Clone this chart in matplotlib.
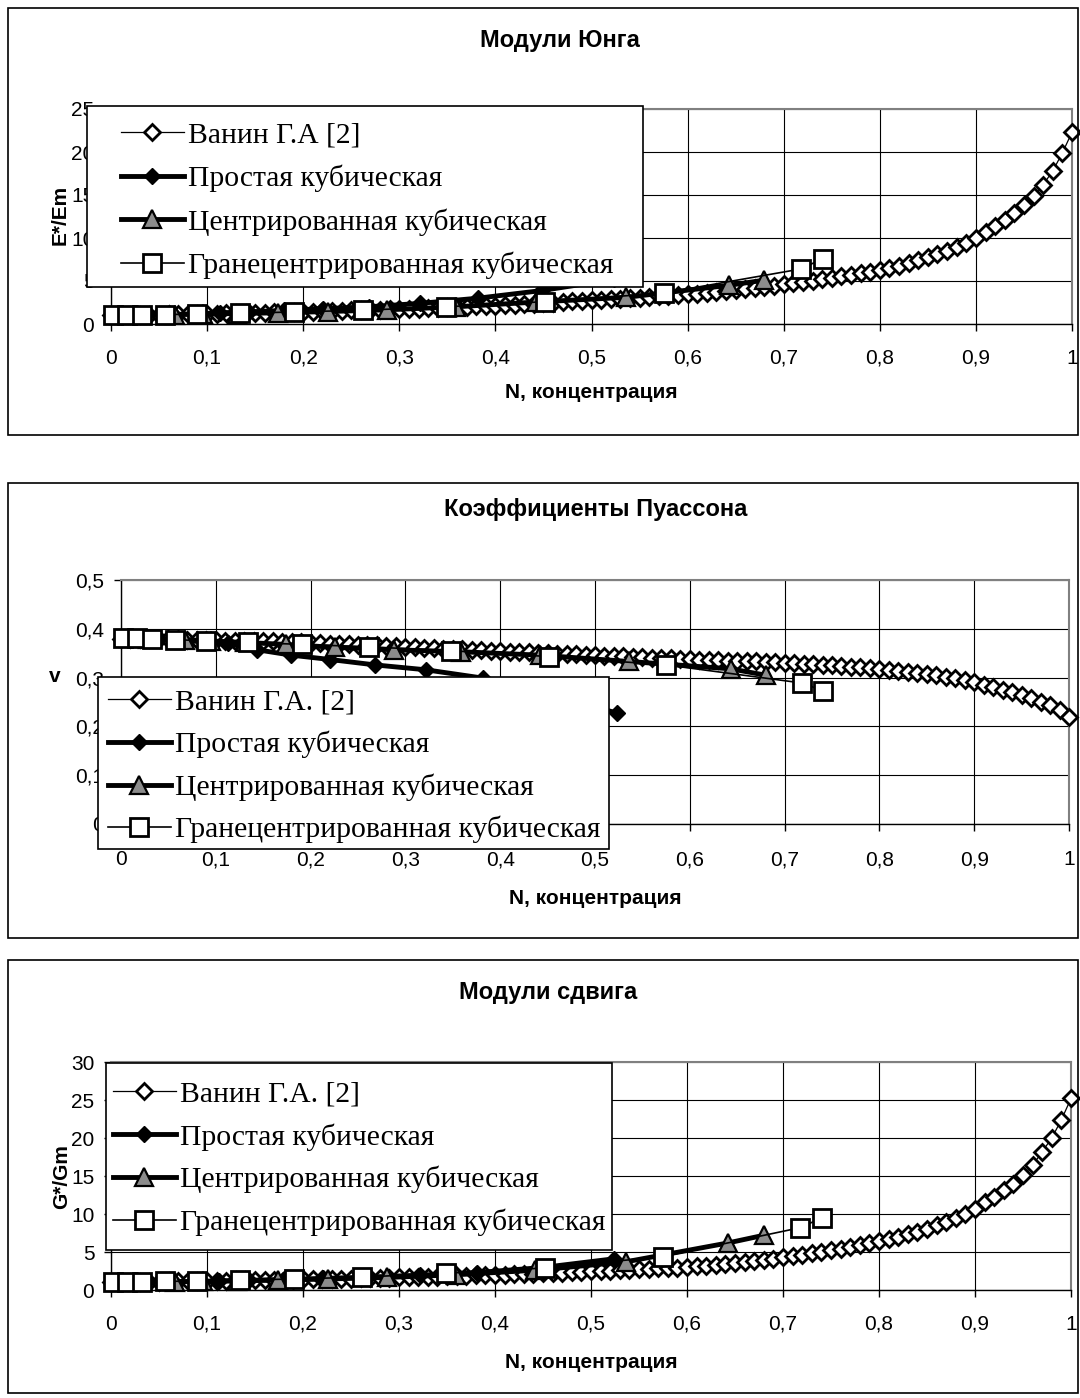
import matplotlib
matplotlib.use('Agg')
import matplotlib.pyplot as plt
from matplotlib.patches import Rectangle
from matplotlib.font_manager import FontProperties
from matplotlib.ticker import FuncFormatter, MultipleLocator

W, H = 1080, 1398

# Ванин Г.А. - сетка по концентрации
x_vanin = [0.00, 0.01, 0.02, 0.03, 0.04, 0.05, 0.06, 0.07, 0.08, 0.09,
           0.10, 0.11, 0.12, 0.13, 0.14, 0.15, 0.16, 0.17, 0.18, 0.19,
           0.20, 0.21, 0.22, 0.23, 0.24, 0.25, 0.26, 0.27, 0.28, 0.29,
           0.30, 0.31, 0.32, 0.33, 0.34, 0.35, 0.36, 0.37, 0.38, 0.39,
           0.40, 0.41, 0.42, 0.43, 0.44, 0.45, 0.46, 0.47, 0.48, 0.49,
           0.50, 0.51, 0.52, 0.53, 0.54, 0.55, 0.56, 0.57, 0.58, 0.59,
           0.60, 0.61, 0.62, 0.63, 0.64, 0.65, 0.66, 0.67, 0.68, 0.69,
           0.70, 0.71, 0.72, 0.73, 0.74, 0.75, 0.76, 0.77, 0.78, 0.79,
           0.80, 0.81, 0.82, 0.83, 0.84, 0.85, 0.86, 0.87, 0.88, 0.89,
           0.90, 0.91, 0.92, 0.93, 0.94, 0.95, 0.96, 0.97, 0.98, 0.99,
           1.00]

e_vanin = [1.00, 1.02, 1.04, 1.06, 1.08, 1.10, 1.12, 1.14, 1.16, 1.18,
           1.20, 1.22, 1.24, 1.26, 1.28, 1.31, 1.33, 1.35, 1.38, 1.40,
           1.43, 1.45, 1.48, 1.51, 1.54, 1.57, 1.60, 1.63, 1.66, 1.69,
           1.73, 1.76, 1.80, 1.84, 1.88, 1.92, 1.96, 2.00, 2.05, 2.10,
           2.15, 2.20, 2.25, 2.31, 2.37, 2.43, 2.49, 2.55, 2.62, 2.69,
           2.75, 2.81, 2.87, 2.93, 3.00, 3.06, 3.13, 3.20, 3.28, 3.36,
           3.45, 3.54, 3.64, 3.74, 3.84, 3.95, 4.06, 4.18, 4.31, 4.45,
           4.60, 4.75, 4.90, 5.05, 5.20, 5.36, 5.53, 5.71, 5.90, 6.10,
           6.30, 6.50, 6.75, 7.05, 7.40, 7.80, 8.15, 8.50, 8.95, 9.45,
           10.0, 10.7, 11.4, 12.1, 12.9, 13.8, 14.9, 16.2, 17.8, 19.9,
           22.3]

v_vanin = [0.380, 0.380, 0.380, 0.380, 0.379, 0.379, 0.379, 0.378, 0.378, 0.377,
           0.377, 0.376, 0.376, 0.375, 0.375, 0.374, 0.374, 0.373, 0.372, 0.372,
           0.371, 0.370, 0.369, 0.369, 0.368, 0.367, 0.366, 0.366, 0.365, 0.364,
           0.363, 0.362, 0.361, 0.360, 0.359, 0.358, 0.358, 0.357, 0.356, 0.355,
           0.354, 0.353, 0.352, 0.352, 0.351, 0.350, 0.349, 0.348, 0.348, 0.347,
           0.346, 0.345, 0.344, 0.344, 0.343, 0.342, 0.341, 0.340, 0.340, 0.339,
           0.338, 0.337, 0.336, 0.336, 0.335, 0.334, 0.333, 0.333, 0.332, 0.331,
           0.330, 0.329, 0.328, 0.327, 0.326, 0.325, 0.324, 0.322, 0.321, 0.319,
           0.317, 0.315, 0.313, 0.311, 0.309, 0.307, 0.305, 0.302, 0.299, 0.295,
           0.290, 0.285, 0.280, 0.275, 0.270, 0.264, 0.258, 0.251, 0.243, 0.233,
           0.219]

g_vanin = [1.00, 1.02, 1.04, 1.06, 1.08, 1.10, 1.12, 1.14, 1.16, 1.18,
           1.20, 1.22, 1.24, 1.26, 1.28, 1.30, 1.32, 1.34, 1.36, 1.38,
           1.40, 1.42, 1.44, 1.46, 1.49, 1.51, 1.54, 1.56, 1.59, 1.62,
           1.65, 1.68, 1.71, 1.74, 1.77, 1.80, 1.84, 1.87, 1.91, 1.95,
           1.99, 2.03, 2.07, 2.11, 2.15, 2.20, 2.24, 2.29, 2.34, 2.39,
           2.44, 2.49, 2.54, 2.60, 2.65, 2.71, 2.77, 2.83, 2.90, 2.96,
           3.03, 3.11, 3.22, 3.34, 3.46, 3.59, 3.72, 3.85, 3.99, 4.14,
           4.30, 4.47, 4.64, 4.82, 5.01, 5.21, 5.42, 5.64, 5.88, 6.13,
           6.40, 6.69, 7.00, 7.33, 7.68, 8.05, 8.50, 8.95, 9.45, 10.05,
           10.7, 11.6, 12.3, 13.2, 14.0, 15.1, 16.4, 18.2, 20.0, 22.4,
           25.2]

# Простая кубическая
x_sc = [0.0042, 0.0335, 0.0654, 0.113, 0.1438, 0.1796, 0.2209, 0.268, 0.3216, 0.3817, 0.449, 0.5236]
e_sc = [1.00, 1.05, 1.10, 1.30, 1.42, 1.57, 1.78, 2.00, 2.40, 3.00, 3.90, 5.20]
v_sc = [0.381, 0.379, 0.376, 0.370, 0.357, 0.346, 0.337, 0.326, 0.316, 0.299, 0.268, 0.227]
g_sc = [1.00, 1.03, 1.08, 1.20, 1.28, 1.38, 1.52, 1.70, 1.95, 2.30, 2.95, 4.10]

# Центрированная кубическая
x_bcc = [0.0084, 0.0283, 0.067, 0.0954, 0.131, 0.174, 0.226, 0.2876, 0.359, 0.4418, 0.536, 0.643, 0.680]
e_bcc = [1.00, 1.02, 1.10, 1.15, 1.22, 1.30, 1.45, 1.65, 2.00, 2.55, 3.10, 4.50, 5.10]
v_bcc = [0.381, 0.380, 0.378, 0.375, 0.372, 0.368, 0.362, 0.357, 0.353, 0.346, 0.333, 0.318, 0.305]
g_bcc = [1.00, 1.02, 1.08, 1.12, 1.20, 1.30, 1.45, 1.65, 2.00, 2.60, 3.70, 6.20, 7.20]

# Гранецентрированная кубическая
x_fcc = [0.0021, 0.0168, 0.0327, 0.0565, 0.0898, 0.134, 0.1909, 0.2618, 0.3485, 0.452, 0.575, 0.718, 0.7405]
e_fcc = [1.00, 1.02, 1.05, 1.10, 1.15, 1.25, 1.40, 1.60, 2.00, 2.60, 3.60, 6.40, 7.60]
v_fcc = [0.381, 0.381, 0.380, 0.378, 0.375, 0.372, 0.368, 0.363, 0.355, 0.343, 0.326, 0.289, 0.273]
g_fcc = [1.00, 1.01, 1.05, 1.12, 1.20, 1.30, 1.45, 1.70, 2.20, 2.90, 4.40, 8.20, 9.50]

names_1 = ['Ванин Г.А [2]', 'Простая кубическая', 'Центрированная кубическая', 'Гранецентрированная кубическая']
names_2 = ['Ванин Г.А. [2]', 'Простая кубическая', 'Центрированная кубическая', 'Гранецентрированная кубическая']

sans = 'Liberation Sans'
legend_font = FontProperties(family='Liberation Serif', size=21.3)


def fx(px):
    return px / W


def fy(py):
    return 1 - py / H


comma = FuncFormatter(lambda v, p: ('%g' % v).replace('.', ','))

fig = plt.figure(figsize=(W / 100, H / 100), dpi=100)


def panel(box, plot, ymax, ystep, yv, ysc, ybcc, yfcc, names, title, title_xy,
          ylabel, ylabel_xy, ylabel_rot, xlabel_y, leg_box, leg_xy, spacing, xpad):
    # рамка диаграммы
    fig.add_artist(Rectangle((fx(box[0]), fy(box[3])), fx(box[2] - box[0]), (box[3] - box[1]) / H,
                             transform=fig.transFigure, fill=False, edgecolor='black', lw=1.2, zorder=0.5))
    l, t, r, b = plot
    ax = fig.add_axes([fx(l), fy(b), fx(r - l), (b - t) / H])
    ax.set_xlim(0, 1)
    ax.set_ylim(0, ymax)
    ax.xaxis.set_major_locator(MultipleLocator(0.1))
    ax.yaxis.set_major_locator(MultipleLocator(ystep))
    ax.xaxis.set_major_formatter(comma)
    ax.yaxis.set_major_formatter(comma)
    ax.grid(True, color='black', lw=0.8)
    ax.set_axisbelow(True)
    for s in ['top', 'right']:
        ax.spines[s].set_color('#808080')
        ax.spines[s].set_linewidth(1.5)
    for s in ['left', 'bottom']:
        ax.spines[s].set_color('black')
        ax.spines[s].set_linewidth(1.0)
    ax.tick_params(axis='both', direction='out', length=5, width=1, labelsize=15)
    ax.tick_params(axis='x', pad=xpad)
    ax.tick_params(axis='y', pad=7)
    for lab in ax.get_xticklabels() + ax.get_yticklabels():
        lab.set_fontfamily(sans)

    h1, = ax.plot(x_vanin, yv, color='black', lw=0.9, marker='D', ms=8.5, mfc='white',
                  mec='black', mew=2.0, clip_on=False, zorder=3)
    h2, = ax.plot(x_sc, ysc, color='black', lw=3.5, marker='D', ms=8.5, mfc='black',
                  mec='black', mew=1, clip_on=False, zorder=4)
    h3, = ax.plot(x_bcc, ybcc, color='black', lw=3.5, marker='^', ms=12.5, mfc='#8c8c8c',
                  mec='black', mew=1.6, clip_on=False, zorder=5)
    h4, = ax.plot(x_fcc, yfcc, color='black', lw=1.2, marker='s', ms=12.5, mfc='white',
                  mec='black', mew=2.0, clip_on=False, zorder=6)

    fig.text(fx(title_xy[0]), fy(title_xy[1]), title, ha='center', va='center',
             fontsize=17, fontweight='bold', family=sans)
    fig.text(fx((l + r) / 2), fy(xlabel_y), 'N, концентрация', ha='center', va='center',
             fontsize=15, fontweight='bold', family=sans)
    fig.text(fx(ylabel_xy[0]), fy(ylabel_xy[1]), ylabel, ha='center', va='center',
             rotation=ylabel_rot, fontsize=15, fontweight='bold', family=sans)

    # легенда
    fig.add_artist(Rectangle((fx(leg_box[0]), fy(leg_box[3])), fx(leg_box[2] - leg_box[0]),
                             (leg_box[3] - leg_box[1]) / H, transform=fig.transFigure,
                             facecolor='white', edgecolor='black', lw=1.2, zorder=3))
    leg = fig.legend([h1, h2, h3, h4], names, loc='upper left',
                     bbox_to_anchor=(fx(leg_xy[0]), fy(leg_xy[1])), bbox_transform=fig.transFigure,
                     frameon=False, borderpad=0, borderaxespad=0, handlelength=2.12,
                     handletextpad=0.15, labelspacing=spacing, prop=legend_font)
    leg.set_zorder(5)
    return ax


panel((8, 8, 1078, 435), (111, 109, 1072, 324), 25, 5, e_vanin, e_sc, e_bcc, e_fcc, names_1,
      'Модули Юнга', (560, 40), 'E*/Em', (60, 215), 90, 393,
      (87, 106, 643, 287), (121, 122), 0.54, 13)
panel((8, 483, 1078, 938), (121, 580, 1069, 824), 0.5, 0.1, v_vanin, v_sc, v_bcc, v_fcc, names_2,
      'Коэффициенты Пуассона', (596, 509), 'v', (55, 676), 0, 898,
      (98, 677, 609, 849), (108, 689), 0.51, 14)
panel((8, 960, 1078, 1393), (111, 1062, 1071, 1290), 30, 5, g_vanin, g_sc, g_bcc, g_fcc, names_2,
      'Модули сдвига', (548, 993), 'G*/Gm', (62, 1177), 90, 1362,
      (106, 1063, 612, 1250), (113, 1081), 0.52, 13)

fig.savefig('out.png', dpi=100)
